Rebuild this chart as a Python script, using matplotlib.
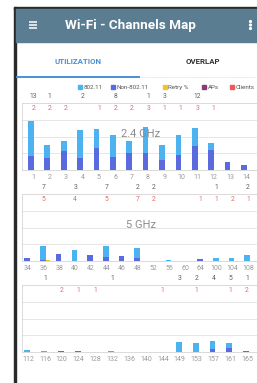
import matplotlib
matplotlib.use('Agg')
import matplotlib.pyplot as plt
from matplotlib.patches import Rectangle, Circle
from matplotlib.transforms import blended_transform_factory
import numpy as np

plt.rcParams['font.family'] = ['Roboto', 'DejaVu Sans']

# 2.4 GHz band
ch_24 = ['1', '2', '3', '4', '5', '6', '7', '8', '9', '10', '11', '12', '13', '14']
wifi_24 = [52, 20, 16, 42, 28, 32, 18, 38, 22, 29, 26, 11, 0, 0]
non_24 = [21, 18, 28, 18, 33, 20, 26, 26, 15, 23, 36, 30, 12, 7]
retry_24 = [0] * 14
aps_24 = [13, 1, None, 2, None, 8, None, 1, 3, None, 12, None, None, None]
clients_24 = [2, 2, 2, None, 1, 2, 2, 3, 1, 1, 3, 1, None, None]

# 5 GHz, lower channels
ch_5a = ['34', '36', '38', '40', '42', '44', '46', '48', '52', '56', '60', '64', '100', '104', '108']
wifi_5a = [0, 21, 0, 16, 0, 16, 0, 15, 0, 1.5, 0.5, 0, 5, 4, 9]
non_5a = [4, 1, 10, 0, 9, 6, 7, 4, 0, 0, 0, 2.5, 0, 0, 0]
retry_5a = [0, 1.5, 0, 0, 0, 0, 0, 0, 0, 0, 0, 0, 0, 0, 0]
aps_5a = [None, 7, None, 3, None, 7, None, 2, 2, None, None, None, 1, None, 2]
clients_5a = [None, 5, None, 4, None, 5, None, 7, 2, None, None, 1, 1, 2, 1]

# 5 GHz, upper channels
ch_5b = ['112', '116', '120', '124', '128', '132', '136', '140', '144', '149', '153', '157', '161', '165']
wifi_5b = [3, 1, 0, 0, 0.5, 1, 0, 0, 0, 15, 14, 12, 8.5, 1]
non_5b = [0, 0, 1.5, 1.5, 0, 0, 0, 0, 0, 0, 0, 5, 5.5, 1]
retry_5b = [0] * 14
aps_5b = [None, 1, None, None, None, 1, None, None, None, 3, 2, 4, 5, 1]
clients_5b = [None, None, 2, 1, 1, None, None, None, 1, None, 1, None, 1, 2]

legend_names = ['802.11', 'Non-802.11', 'Retry %', 'APs', 'Clients']

C_WIFI = '#4db2f0'
C_NON = '#5a6be0'
C_RETRY = '#f2c230'
C_APS = '#8b3a74'
C_CLI = '#ee5a5a'

W, H = 257, 383
fig = plt.figure(figsize=(W / 100, H / 100), dpi=100)
fig.patch.set_facecolor('white')

bg = fig.add_axes([0, 0, 1, 1])
bg.set_xlim(0, W)
bg.set_ylim(H, 0)
bg.axis('off')

# phone frame + app bar
bg.add_patch(Rectangle((14, 7), W - 14, 2, color='#2a2a2a'))
bg.add_patch(Rectangle((14, 7), 2, H - 7, color='#2a2a2a'))
bg.add_patch(Rectangle((16, 9), W - 16, 33, color='#5a7d92'))
for yy in (21.8, 25, 28.2):
    bg.plot([28.5, 37], [yy, yy], color='white', lw=1.1, solid_capstyle='butt')
for yy in (21.5, 25, 28.5):
    bg.add_patch(Circle((250.5, yy), 0.9, color='white'))
bg.text(65, 25.5, 'Wi-Fi - Channels Map', color='white', fontsize=9.7,
        fontweight='bold', ha='left', va='center')

# tabs
bg.text(78, 61, 'UTILIZATION', color='#4a8fd6', fontsize=5.7, fontweight='bold',
        ha='center', va='center')
bg.text(203, 61, 'OVERLAP', color='#333333', fontsize=5.7, fontweight='bold',
        ha='center', va='center')
bg.plot([140, W], [77.3, 77.3], color='#d8d8d8', lw=0.6, ls=(0, (1, 1)))
bg.plot([16, 140], [77, 77], color='#4a8fd6', lw=1.4, solid_capstyle='butt')

# legend
leg_colors = [C_WIFI, C_NON, C_RETRY, C_APS, C_CLI]
leg_x = [77.5, 110.5, 162.5, 201.5, 229.5]
for name, col, lx in zip(legend_names, leg_colors, leg_x):
    bg.add_patch(Rectangle((lx, 85), 4, 4, color=col))
    bg.text(lx + 6, 87.2, name, fontsize=4.5, color='#555555', ha='left', va='center')


def panel(top, bottom, xmin, xmax, labels, wifi, non, retry, aps, clients, off, band=None):
    left, right = 21.5, 262
    ax = fig.add_axes([left / W, 1 - bottom / H, (right - left) / W, (bottom - top) / H])
    x = np.arange(len(labels))
    ax.bar(x + off, non, 0.35, color=C_NON, zorder=2)
    ax.bar(x + off, wifi, 0.35, bottom=non, color=C_WIFI, zorder=2)
    ax.bar(x + off + 0.3, retry, 0.25, color=C_RETRY, zorder=2)
    ax.set_xlim(xmin, xmax)
    ax.set_ylim(0, 100)
    ax.set_yticks([25, 50, 75])
    ax.yaxis.grid(True, color='#e2e2e2', lw=0.6)
    ax.set_axisbelow(True)
    ax.tick_params(axis='y', length=0, labelleft=False)
    ax.set_xticks(x, labels)
    ax.tick_params(axis='x', length=0, pad=2.6, labelsize=5, labelcolor='#9a9a9a')
    for sp in ax.spines.values():
        sp.set_color('#d4d4d4')
        sp.set_linewidth(0.6)
    tr = blended_transform_factory(ax.transData, ax.transAxes)
    for xi, a in zip(x, aps):
        if a is not None:
            ax.text(xi, 1.095, str(a), transform=tr, fontsize=4.9, color='#606060',
                    ha='center', va='center', clip_on=False)
    for xi, c in zip(x, clients):
        if c is not None:
            ax.text(xi, 0.915, str(c), transform=tr, fontsize=4.9, color='#e46a6a',
                    ha='center', va='center', clip_on=False)
    if band:
        ax.text(0.497, 0.54, band, transform=ax.transAxes, fontsize=8,
                color='#8c8c8c', ha='center', va='center', zorder=3)
    return ax


panel(103, 170, -0.72, 13.95, ch_24, wifi_24, non_24, retry_24, aps_24, clients_24, -0.15, '2.4 GHz')
panel(194, 261, -0.41, 14.89, ch_5a, wifi_5a, non_5a, retry_5a, aps_5a, clients_5a, -0.05, '5 GHz')
panel(285, 352, -0.39, 13.89, ch_5b, wifi_5b, non_5b, retry_5b, aps_5b, clients_5b, -0.05)

fig.savefig('out.png', dpi=100)
